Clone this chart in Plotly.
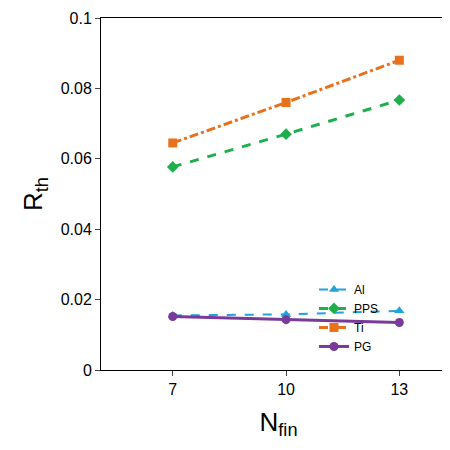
import plotly.graph_objects as go

x = [7, 10, 13]
al = [0.0155, 0.0158, 0.0168]
pps = [0.0577, 0.0670, 0.0767]
ti = [0.0645, 0.0760, 0.0880]
pg = [0.0152, 0.0143, 0.0135]

fig = go.Figure()
fig.add_trace(go.Scatter(x=x, y=al, name="Al", mode="lines+markers",
    line=dict(color="#1fa3d9", width=2, dash="dash"), marker=dict(symbol="triangle-up", size=9)))
fig.add_trace(go.Scatter(x=x, y=pps, name="PPS", mode="lines+markers",
    line=dict(color="#1fae4c", width=3, dash="dash"), marker=dict(symbol="diamond", size=9)))
fig.add_trace(go.Scatter(x=x, y=ti, name="Ti", mode="lines+markers",
    line=dict(color="#e8711c", width=3, dash="dashdot"), marker=dict(symbol="square", size=9)))
fig.add_trace(go.Scatter(x=x, y=pg, name="PG", mode="lines+markers",
    line=dict(color="#7a3a9a", width=3), marker=dict(symbol="circle", size=9)))

fig.update_layout(
    width=450, height=450, plot_bgcolor="white", paper_bgcolor="white",
    margin=dict(l=93, r=2, t=10, b=88),
    font=dict(family="Liberation Sans", color="black", size=16),
    legend=dict(x=0.6, y=0.27, xanchor="left", yanchor="top", font=dict(size=12),
                bgcolor="rgba(0,0,0,0)", tracegroupgap=0),
    xaxis=dict(range=[5.1, 14.5], tickvals=x, showline=True, linecolor="black",
               ticks="outside", ticklen=5, mirror=True, showgrid=False,
               title=dict(text="N<sub>fin</sub>", font=dict(size=26))),
    yaxis=dict(range=[0, 0.1], dtick=0.02, tickformat="~g", showline=True, linecolor="black",
               ticks="outside", ticklen=5, mirror=True, showgrid=False,
               title=dict(text="R<sub>th</sub>", font=dict(size=26), standoff=10)),
)
fig.write_html("out.html")
